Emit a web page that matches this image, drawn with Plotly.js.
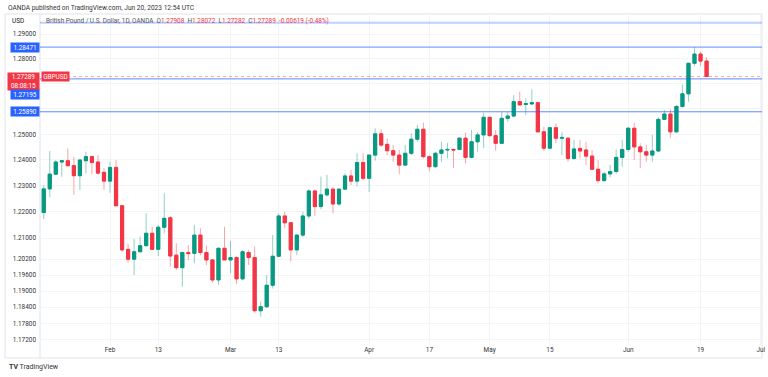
<!DOCTYPE html>
<html><head><meta charset="utf-8">
<script src="https://cdn.plot.ly/plotly-3.0.1.min.js"></script>
<style>html,body{margin:0;padding:0;background:#fff;}#chart{width:768px;height:377px;}</style>
</head><body><div id="chart"></div>
<script>
// GBPUSD daily candles, 2023-01-16 .. 2023-06-20
const dates = [
'2023-01-16','2023-01-17','2023-01-18','2023-01-19','2023-01-20','2023-01-23','2023-01-24','2023-01-25','2023-01-26','2023-01-27','2023-01-30','2023-01-31',
'2023-02-01','2023-02-02','2023-02-03','2023-02-06','2023-02-07','2023-02-08','2023-02-09','2023-02-10','2023-02-13','2023-02-14','2023-02-15','2023-02-16','2023-02-17','2023-02-20','2023-02-21','2023-02-22','2023-02-23','2023-02-24','2023-02-27','2023-02-28',
'2023-03-01','2023-03-02','2023-03-03','2023-03-06','2023-03-07','2023-03-08','2023-03-09','2023-03-10','2023-03-13','2023-03-14','2023-03-15','2023-03-16','2023-03-17','2023-03-20','2023-03-21','2023-03-22','2023-03-23','2023-03-24','2023-03-27','2023-03-28','2023-03-29','2023-03-30','2023-03-31',
'2023-04-03','2023-04-04','2023-04-05','2023-04-06','2023-04-07','2023-04-10','2023-04-11','2023-04-12','2023-04-13','2023-04-14','2023-04-17','2023-04-18','2023-04-19','2023-04-20','2023-04-21','2023-04-24','2023-04-25','2023-04-26','2023-04-27','2023-04-28',
'2023-05-01','2023-05-02','2023-05-03','2023-05-04','2023-05-05','2023-05-08','2023-05-09','2023-05-10','2023-05-11','2023-05-12','2023-05-15','2023-05-16','2023-05-17','2023-05-18','2023-05-19','2023-05-22','2023-05-23','2023-05-24','2023-05-25','2023-05-26','2023-05-29','2023-05-30','2023-05-31',
'2023-06-01','2023-06-02','2023-06-05','2023-06-06','2023-06-07','2023-06-08','2023-06-09','2023-06-12','2023-06-13','2023-06-14','2023-06-15','2023-06-16','2023-06-19','2023-06-20'];
const opens = [
1.2226,1.2197,1.2288,1.2345,1.2392,1.2397,1.2378,1.2339,1.2397,1.2413,1.2392,1.2352,
1.2318,1.2371,1.2223,1.2057,1.2020,1.2048,1.2071,1.2118,1.2057,1.2141,1.2177,1.2035,1.1988,1.2045,1.2042,1.2111,1.2045,1.2017,1.1942,1.2061,
1.2017,1.2026,1.1946,1.2045,1.2026,1.1827,1.1842,1.1922,1.2031,1.2184,1.2158,1.2055,1.2111,1.2184,1.2280,1.2220,1.2265,1.2287,1.2230,1.2287,1.2338,1.2318,1.2390,
1.2329,1.2419,1.2502,1.2461,1.2436,1.2419,1.2380,1.2426,1.2481,1.2520,1.2413,1.2374,1.2426,1.2439,1.2441,1.2441,1.2485,1.2410,1.2471,1.2498,
1.2567,1.2495,1.2465,1.2563,1.2572,1.2629,1.2618,1.2620,1.2625,1.2510,1.2446,1.2526,1.2485,1.2485,1.2406,1.2445,1.2439,1.2415,1.2364,1.2320,1.2346,1.2355,1.2410,
1.2441,1.2524,1.2451,1.2432,1.2419,1.2435,1.2559,1.2580,1.2510,1.2610,1.2660,1.2782,1.2819,1.27908];
const highs = [
1.2240,1.2303,1.2435,1.2400,1.2400,1.2445,1.2413,1.2400,1.2432,1.2419,1.2419,1.2368,
1.2393,1.2400,1.2226,1.2077,1.2096,1.2105,1.2194,1.2143,1.2150,1.2271,1.2184,1.2080,1.2048,1.2073,1.2150,1.2137,1.2073,1.2020,1.2065,1.2143,
1.2089,1.2030,1.2055,1.2055,1.2068,1.1861,1.1960,1.2111,1.2194,1.2200,1.2160,1.2115,1.2200,1.2287,1.2285,1.2335,1.2342,1.2294,1.2290,1.2348,1.2361,1.2426,1.2426,
1.2420,1.2524,1.2520,1.2485,1.2458,1.2439,1.2458,1.2504,1.2537,1.2546,1.2419,1.2432,1.2471,1.2467,1.2443,1.2489,1.2507,1.2517,1.2510,1.2585,
1.2568,1.2517,1.2589,1.2589,1.2655,1.2669,1.2642,1.2678,1.2629,1.2530,1.2529,1.2543,1.2510,1.2488,1.2478,1.2478,1.2471,1.2439,1.2400,1.2355,1.2381,1.2441,1.2478,
1.2530,1.2546,1.2465,1.2458,1.2498,1.2567,1.2596,1.2599,1.2616,1.2696,1.2784,1.28471,1.2829,1.28072];
const lows = [
1.2190,1.2172,1.2256,1.2342,1.2335,1.2373,1.2265,1.2284,1.2348,1.2345,1.2342,1.2284,
1.2273,1.2222,1.2048,1.2007,1.1960,1.2046,1.2068,1.2055,1.2032,1.2118,1.1992,1.1979,1.1917,1.2017,1.2005,1.2034,1.1998,1.1932,1.1923,1.2017,
1.1967,1.1927,1.1940,1.1998,1.1820,1.1805,1.1837,1.1910,1.2030,1.2137,1.2011,1.2036,1.2103,1.2172,1.2184,1.2210,1.2258,1.2194,1.2222,1.2285,1.2303,1.2297,1.2322,
1.2276,1.2397,1.2451,1.2419,1.2393,1.2345,1.2378,1.2419,1.2471,1.2406,1.2355,1.2370,1.2393,1.2406,1.2368,1.2438,1.2387,1.2406,1.2432,1.2446,
1.2491,1.2436,1.2463,1.2550,1.2570,1.2615,1.2576,1.2616,1.2508,1.2436,1.2444,1.2465,1.2419,1.2393,1.2400,1.2406,1.2380,1.2361,1.2310,1.2316,1.2333,1.2346,1.2374,
1.2432,1.2400,1.2368,1.2393,1.2393,1.2432,1.2556,1.2487,1.2508,1.2605,1.2629,1.2770,1.2770,1.27282];
const closes = [
1.2197,1.2288,1.2345,1.2392,1.2397,1.2378,1.2339,1.2400,1.2413,1.2390,1.2349,1.2318,
1.2371,1.2223,1.2055,1.2020,1.2048,1.2071,1.2118,1.2057,1.2141,1.2175,1.2032,1.1988,1.2045,1.2041,1.2111,1.2045,1.2017,1.1942,1.2061,1.2017,
1.2026,1.1946,1.2048,1.2026,1.1827,1.1842,1.1922,1.2031,1.2184,1.2158,1.2055,1.2111,1.2184,1.2280,1.2220,1.2265,1.2287,1.2230,1.2287,1.2338,1.2318,1.2390,1.2329,
1.2419,1.2502,1.2458,1.2436,1.2419,1.2380,1.2426,1.2481,1.2520,1.2413,1.2374,1.2426,1.2439,1.2441,1.2439,1.2485,1.2410,1.2471,1.2498,1.2567,
1.2495,1.2465,1.2563,1.2572,1.2629,1.2616,1.2621,1.2625,1.2510,1.2446,1.2526,1.2485,1.2488,1.2406,1.2443,1.2435,1.2415,1.2364,1.2320,1.2346,1.2355,1.2410,1.2441,
1.2524,1.2451,1.2432,1.2419,1.2435,1.2559,1.2580,1.2510,1.2610,1.2660,1.2782,1.2819,1.27908,1.27289];

// price-axis ticks; 1.27 and 1.26 keep their grid lines, their labels sit under the price boxes
const yTickVals = [1.29,1.28,1.27,1.26,1.25,1.24,1.23,1.22,1.21,1.202,1.196,1.19,1.184,1.178,1.172];
const yHiddenLabels = [1.27, 1.26];
const yTickText = yTickVals.map(v => yHiddenLabels.includes(v) ? '' : v.toFixed(5));
const xTickDates = ['2023-02-01','2023-02-13','2023-03-01','2023-03-13','2023-04-03','2023-04-17','2023-05-01','2023-05-15','2023-06-01','2023-06-19'];
const xTickText = ['Feb','13','Mar','13','Apr','17','May','15','Jun','19','Jul'];

const lineHigh = 1.28471;
const lineLast = 1.27289;
const line2 = 1.27195;
const line3 = 1.25890;
const lineTop = 1.2946;
const timerText = '08:08:15';

const xi = dates.map((d, i) => i);
const tickPos = xTickDates.map(d => dates.indexOf(d));
tickPos.push(dates.length + 8); // Jul 3: 9 trading days after the last candle

const bodyHigh = opens.map((o, i) => Math.max(o, closes[i]));
const bodyLow = opens.map((o, i) => Math.min(o, closes[i]));

const GREEN = '#089981', RED = '#F23645', BLUE = '#2962FF';
const wicks = {
  type: 'candlestick', x: xi, open: opens, high: highs, low: lows, close: closes,
  increasing: {line: {color: 'rgba(8,153,129,0.45)', width: 1}, fillcolor: 'rgba(8,153,129,0.45)'},
  decreasing: {line: {color: 'rgba(242,54,69,0.45)', width: 1}, fillcolor: 'rgba(242,54,69,0.45)'},
  whiskerwidth: 0, hoverinfo: 'skip', showlegend: false
};
const bodies = {
  type: 'candlestick', x: xi, open: opens, high: bodyHigh, low: bodyLow, close: closes,
  increasing: {line: {color: GREEN, width: 1}, fillcolor: GREEN},
  decreasing: {line: {color: RED, width: 1}, fillcolor: RED},
  whiskerwidth: 0, hoverinfo: 'skip', showlegend: false
};

const FONT = 'Roboto, "Liberation Sans", sans-serif';
const PL = 40, PW = 722, PT = 14, PH = 331;
const px = X => (X - PL) / PW;          // page x -> paper x
const py = Y => (PT + PH - Y) / PH;     // page y -> paper y
const L10 = Math.log10;

const shapes = [
  {type:'rect', xref:'paper', yref:'paper', x0:px(5), x1:px(762), y0:py(358), y1:py(14), line:{color:'#e0e3eb', width:1}, layer:'below'},
  {type:'line', xref:'paper', yref:'paper', x0:0, x1:0, y0:py(358), y1:1, line:{color:'#e0e3eb', width:1}},
  {type:'line', xref:'paper', yref:'y', x0:0, x1:1, y0:lineTop, y1:lineTop, line:{color:'rgba(41,98,255,0.3)', width:2}},
  {type:'line', xref:'paper', yref:'y', x0:0, x1:1, y0:lineHigh, y1:lineHigh, line:{color:'rgba(41,98,255,0.75)', width:1}},
  {type:'line', xref:'paper', yref:'y', x0:px(67), x1:1, y0:lineLast, y1:lineLast, line:{color:'rgba(242,54,69,0.45)', width:1, dash:'dot'}},
  {type:'line', xref:'paper', yref:'y', x0:0, x1:1, y0:line2, y1:line2, line:{color:'rgba(41,98,255,0.75)', width:1}},
  {type:'line', xref:'paper', yref:'y', x0:0, x1:1, y0:line3, y1:line3, line:{color:'rgba(41,98,255,0.75)', width:1}}
];

const fs = 6.4;
const gray = '#131722';
const n = closes.length - 1;
const chg = closes[n] - closes[n-1];
const pct = chg / closes[n-1] * 100;
const red = s => '<span style="color:'+RED+'">'+s+'</span>';
const legendText = 'British Pound / U.S. Dollar, 1D, OANDA  ' +
  'O'+red(opens[n].toFixed(5))+'  H'+red(highs[n].toFixed(5))+'  L'+red(lows[n].toFixed(5))+
  '  C'+red(closes[n].toFixed(5))+'  '+red(chg.toFixed(5)+' ('+pct.toFixed(2)+'%)');

function priceBox(price, text, color, yshift) {
  return {xref:'paper', yref:'y', x:px(39.5), y:L10(price), xanchor:'right', yanchor:'middle',
    yshift: yshift, text:text, showarrow:false, bgcolor:color, borderpad:0, width:28, height:9,
    font:{family:FONT, size:fs, color:'#fff'}, align:'center', valign:'middle'};
}

const annotations = [
  {xref:'paper', yref:'paper', x:px(6), y:py(8), xanchor:'left', yanchor:'middle', showarrow:false,
   text:'OANDA published on TradingView.com, Jun 20, 2023 12:54 UTC', font:{family:FONT, size:6.6, color:'#333'}},
  {xref:'paper', yref:'paper', x:px(10), y:py(21), xanchor:'left', yanchor:'middle', showarrow:false,
   text:'USD', font:{family:FONT, size:fs, color:gray}},
  {xref:'paper', yref:'paper', x:px(44), y:py(21), xanchor:'left', yanchor:'middle', showarrow:false,
   text:legendText, font:{family:FONT, size:fs, color:'#555'}},
  priceBox(lineHigh, lineHigh.toFixed(5), BLUE, 0),
  {xref:'paper', yref:'y', x:px(39.5), y:L10(lineLast), xanchor:'right', yanchor:'top', yshift:5,
   text:lineLast.toFixed(5)+'<br>'+timerText, showarrow:false, bgcolor:RED, borderpad:0, width:31, height:17,
   font:{family:FONT, size:fs, color:'#fff'}, align:'center', valign:'middle'},
  {xref:'paper', yref:'y', x:px(40.5), y:L10(lineLast), xanchor:'left', yanchor:'middle',
   text:'GBPUSD', showarrow:false, bgcolor:RED, borderpad:0, width:27, height:9,
   font:{family:FONT, size:fs, color:'#fff'}, align:'center', valign:'middle'},
  priceBox(line2, line2.toFixed(5), BLUE, -15.5),
  priceBox(line3, line3.toFixed(5), BLUE, 0),
  {xref:'paper', yref:'paper', x:px(7), y:py(367), xanchor:'left', yanchor:'middle', showarrow:false,
   text:'<b>TV</b> TradingView', font:{family:FONT, size:7, color:'#333'}}
];

const layout = {
  width:768, height:377,
  margin:{l:PL, r:768-PL-PW, t:PT, b:377-PT-PH},
  paper_bgcolor:'#fff', plot_bgcolor:'#fff',
  showlegend:false, boxgap:0.25, boxmode:'overlay',
  font:{family:FONT, size:fs, color:gray},
  xaxis:{type:'linear', range:[0.38, 120.2], tickmode:'array', tickvals:tickPos, ticktext:xTickText,
    showgrid:true, gridcolor:'#f3f4f6', gridwidth:1, zeroline:false, showline:false, ticks:'',
    tickfont:{family:FONT, size:fs, color:'#333'}, rangeslider:{visible:false}, fixedrange:true},
  yaxis:{type:'log', range:[0.068206, 0.113315], tickmode:'array', tickvals:yTickVals, ticktext:yTickText,
    showgrid:true, gridcolor:'#f3f4f6', gridwidth:1, zeroline:false, showline:false, ticks:'',
    ticklabelstandoff:3, tickfont:{family:FONT, size:fs, color:'#333'}, fixedrange:true},
  shapes:shapes, annotations:annotations
};

Plotly.newPlot('chart', [wicks, bodies], layout, {displayModeBar:false, staticPlot:true});
</script></body></html>
